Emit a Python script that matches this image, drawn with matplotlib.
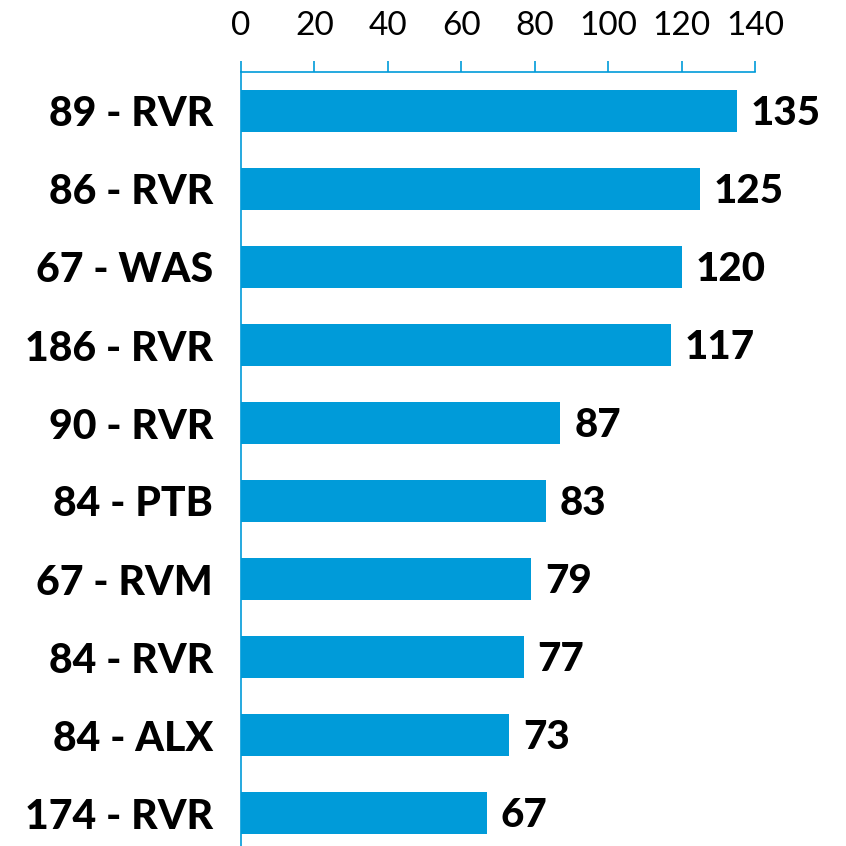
import matplotlib
matplotlib.use("Agg")
import matplotlib.pyplot as plt

labels = ["89 - RVR", "86 - RVR", "67 - WAS", "186 - RVR", "90 - RVR",
          "84 - PTB", "67 - RVM", "84 - RVR", "84 - ALX", "174 - RVR"]
values = [135, 125, 120, 117, 87, 83, 79, 77, 73, 67]
ticks = [0, 20, 40, 60, 80, 100, 120, 140]

BLUE = "#009BD9"
plt.rcParams["font.family"] = ["Lato", "DejaVu Sans"]

fig = plt.figure(figsize=(8.46, 8.46), dpi=100)
ax = fig.add_axes([241 / 846, -6 / 846, 514 / 846, 780 / 846])

ypos = list(range(len(values)))
ax.barh(ypos, values, height=0.55, color=BLUE)
ax.set_ylim(len(values) - 0.5, -0.5)
ax.set_xlim(0, 140)

ax.xaxis.tick_top()
ax.set_xticks(ticks)
ax.set_xticklabels([str(t) for t in ticks], fontsize=24)
ax.tick_params(axis="x", direction="out", length=8, width=1.2, color=BLUE, pad=14)

ax.set_yticks(ypos)
ax.set_yticklabels(labels, fontsize=29.5, fontweight="black")
ax.tick_params(axis="y", length=0, pad=20)

for side in ["right", "bottom"]:
    ax.spines[side].set_visible(False)
for side in ["left", "top"]:
    ax.spines[side].set_color(BLUE)
    ax.spines[side].set_linewidth(1.2)

# value labels just right of each bar, sitting a touch below centre
for y, v in zip(ypos, values):
    ax.annotate(str(v), xy=(v, y), xytext=(10, -2), textcoords="offset points",
                ha="left", va="center", fontsize=29, fontweight="black")

fig.savefig("out.png", dpi=100)
